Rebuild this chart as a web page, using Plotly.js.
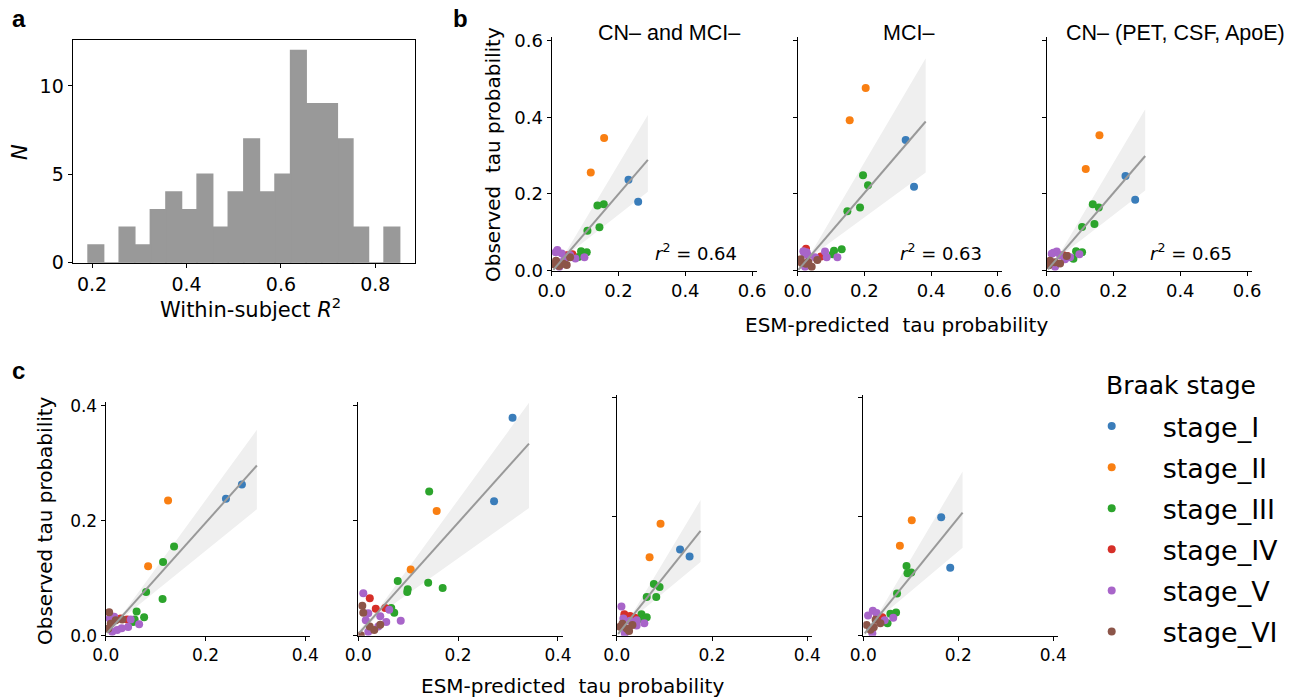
<!DOCTYPE html>
<html><head><meta charset="utf-8">
<script src="https://cdn.plot.ly/plotly-3.0.1.min.js"></script>
<style>html,body{margin:0;padding:0;background:#fff}</style>
</head><body><div id="chart" style="width:1306px;height:697px"></div>
<script>
// ---------- DATA ----------
const stageNames = ['stage_I','stage_II','stage_III','stage_IV','stage_V','stage_VI'];
const stageKeys  = ['I','II','III','IV','V','VI'];

// panel a: histogram of within-subject R^2
const histCenters = [0.208,0.241,0.274,0.307,0.340,0.373,0.406,0.439,0.472,0.505,0.538,0.571,0.604,0.637,0.670,0.703,0.736,0.769,0.802,0.835];
const histCounts  = [1,0,2,1,3,4,3,5,2,4,7,4,5,12,9,9,7,2,0,2];
const histBinWidth = 0.033;

// panel b1: CN- and MCI-
const b1_x = [0.230,0.259, 0.157,0.117, 0.137,0.156,0.143,0.107,0.088,0.105,0.080, 0.062,0.045, 0.017,0.030,0.055,0.071,0.098,0.023,0.040,0.012,0.028, 0.013,0.045,0.055,0.035,0.022,0.008];
const b1_y = [0.237,0.180, 0.346,0.256, 0.170,0.173,0.113,0.104,0.051,0.048,0.036, 0.043,0.040, 0.054,0.045,0.041,0.032,0.035,0.010,0.032,0.048,0.022, 0.026,0.015,0.035,0.018,0.012,0.016];
const b1_s = ['I','I','II','II','III','III','III','III','III','III','III','IV','IV','V','V','V','V','V','V','V','V','V','VI','VI','VI','VI','VI','VI'];
// panel b2: MCI-
const b2_x = [0.324,0.349, 0.204,0.156, 0.196,0.211,0.149,0.187,0.132,0.109,0.105, 0.025,0.070, 0.017,0.027,0.022,0.052,0.082,0.087,0.119,0.030,0.020, 0.009,0.059,0.042,0.032,0.012,0.025];
const b2_y = [0.341,0.219, 0.476,0.392, 0.249,0.223,0.155,0.165,0.056,0.052,0.043, 0.057,0.037, 0.051,0.048,0.010,0.035,0.050,0.035,0.035,0.040,0.046, 0.030,0.028,0.010,0.023,0.020,0.018];
const b2_s = ['I','I','II','II','III','III','III','III','III','III','III','IV','IV','V','V','V','V','V','V','V','V','V','VI','VI','VI','VI','VI','VI'];
// panel b3: CN- (PET, CSF, ApoE)
const b3_x = [0.236,0.265, 0.158,0.117, 0.138,0.156,0.106,0.143,0.088,0.106,0.080, 0.050,0.062, 0.020,0.030,0.070,0.098,0.025,0.040,0.015,0.055, 0.010,0.040,0.060,0.025,0.006];
const b3_y = [0.247,0.185, 0.353,0.265, 0.173,0.165,0.114,0.122,0.051,0.048,0.031, 0.040,0.038, 0.047,0.050,0.035,0.043,0.010,0.040,0.044,0.030, 0.026,0.019,0.038,0.022,0.014];
const b3_s = ['I','I','II','II','III','III','III','III','III','III','III','IV','IV','V','V','V','V','V','V','V','V','VI','VI','VI','VI','VI'];
// panel c1..c4
const c1_x = [0.241,0.273, 0.125,0.085, 0.137,0.115,0.081,0.114,0.062,0.077,0.055,0.058, 0.030,0.043, 0.067,0.045,0.050,0.017,0.023,0.013,0.032,0.008, 0.007,0.010,0.033,0.020,0.005];
const c1_y = [0.238,0.263, 0.235,0.121, 0.155,0.128,0.076,0.064,0.042,0.032,0.024,0.028, 0.030,0.028, 0.020,0.015,0.028,0.033,0.010,0.007,0.013,0.030, 0.041,0.021,0.028,0.027,0.012];
const c1_s = ['I','I','II','II','III','III','III','III','III','III','III','III','IV','IV','V','V','V','V','V','V','V','V','VI','VI','VI','VI','VI'];
const c2_x = [0.309,0.272, 0.157,0.105, 0.142,0.079,0.140,0.169,0.099,0.098,0.066,0.072, 0.023,0.035,0.054, 0.010,0.062,0.085,0.056,0.044,0.020,0.015,0.020,0.040, 0.008,0.010,0.044,0.032,0.023,0.005];
const c2_y = [0.379,0.234, 0.217,0.115, 0.251,0.095,0.092,0.083,0.081,0.076,0.048,0.040, 0.065,0.047,0.048, 0.074,0.045,0.026,0.024,0.034,0.039,0.027,0.007,0.016, 0.052,0.040,0.019,0.010,0.016,0.001];
const c2_s = ['I','I','II','II','III','III','III','III','III','III','III','III','IV','IV','IV','V','V','V','V','V','V','V','V','V','VI','VI','VI','VI','VI','VI'];
const c3_x = [0.133,0.153, 0.092,0.069, 0.078,0.090,0.063,0.083,0.052,0.063,0.056, 0.016,0.028,0.038, 0.010,0.014,0.042,0.058,0.042,0.028,0.017, 0.007,0.021,0.033,0.026,0.012];
const c3_y = [0.145,0.133, 0.188,0.132, 0.087,0.082,0.065,0.065,0.036,0.031,0.027, 0.036,0.033,0.030, 0.049,0.029,0.026,0.021,0.017,0.025,0.004, 0.015,0.012,0.018,0.008,0.020];
const c3_s = ['I','I','II','II','III','III','III','III','III','III','III','IV','IV','IV','V','V','V','V','V','V','V','VI','VI','VI','VI','VI'];
const c4_x = [0.164,0.183, 0.102,0.077, 0.091,0.093,0.101,0.071,0.057,0.069,0.051,0.043, 0.040,0.029, 0.020,0.010,0.028,0.045,0.063,0.019, 0.007,0.022,0.036,0.015,0.026];
const c4_y = [0.199,0.114, 0.194,0.151, 0.117,0.105,0.106,0.071,0.037,0.039,0.021,0.026, 0.031,0.031, 0.042,0.034,0.038,0.026,0.030,0.004, 0.018,0.014,0.021,0.010,0.027];
const c4_s = ['I','I','II','II','III','III','III','III','III','III','III','III','IV','IV','V','V','V','V','V','V','VI','VI','VI','VI','VI'];

// regression lines and confidence bands
const b1_fitX = [0.005,0.288], b1_fitY = [0.002,0.289];
const b1_bandX = [0.005,0.045,0.288], b1_bandHi = [0.008,0.052,0.406], b1_bandLo = [0.0,0.040,0.206];
const b2_fitX = [0.002,0.384], b2_fitY = [0.002,0.389];
const b2_bandX = [0.002,0.045,0.384], b2_bandHi = [0.006,0.053,0.554], b2_bandLo = [0.0,0.040,0.256];
const b3_fitX = [0.004,0.295], b3_fitY = [0.004,0.299];
const b3_bandX = [0.004,0.045,0.295], b3_bandHi = [0.010,0.053,0.421], b3_bandLo = [0.0,0.041,0.209];
const c1_fitX = [0.003,0.303], c1_fitY = [0.005,0.296];
const c1_bandX = [0.003,0.040,0.303], c1_bandHi = [0.010,0.045,0.358], c1_bandLo = [0.001,0.035,0.220];
const c2_fitX = [0.002,0.342], c2_fitY = [0.005,0.334];
const c2_bandX = [0.002,0.040,0.342], c2_bandHi = [0.010,0.046,0.405], c2_bandLo = [0.001,0.036,0.222];
const c3_fitX = [0.003,0.176], c3_fitY = [0.003,0.176];
const c3_bandX = [0.003,0.035,0.176], c3_bandHi = [0.008,0.040,0.228], c3_bandLo = [0.0,0.030,0.124];
const c4_fitX = [0.003,0.209], c4_fitY = [0.004,0.207];
const c4_bandX = [0.003,0.035,0.209], c4_bandHi = [0.008,0.041,0.276], c4_bandLo = [0.0,0.031,0.148];

const rSquared = ['0.64','0.63','0.65'];
const bTitles = ['CN– and MCI–','MCI–','CN– (PET, CSF, ApoE)'];

// ---------- STYLE / LAYOUT ----------
const stageColors = ['#3a7dba','#f97f12','#2ca42c','#d62f28','#a865c9','#8c5549'];
const W = 1306, H = 697;
const px = v => v / W;
const py = v => 1 - v / H;

const traces = [];
traces.push({type:'bar', x: histCenters, y: histCounts, width: histBinWidth,
  marker:{color:'#999999', line:{width:1.5, color:'#999999'}}, xaxis:'x', yaxis:'y', showlegend:false, hoverinfo:'skip'});

function addPanel(xs, ys, ss, fx, fy, bx, bhi, blo, xa, ya, legend){
  traces.push({type:'scatter', mode:'lines', x: bx.concat(bx.slice().reverse()),
    y: bhi.concat(blo.slice().reverse()), fill:'toself', fillcolor:'#efefef',
    line:{width:0}, xaxis:xa, yaxis:ya, showlegend:false, hoverinfo:'skip'});
  stageKeys.forEach((k,i)=>{
    const idx = [];
    ss.forEach((s,j)=>{ if (s===k) idx.push(j); });
    traces.push({type:'scatter', mode:'markers', x: idx.map(j=>xs[j]), y: idx.map(j=>ys[j]),
      marker:{color: stageColors[i], size:8}, name: stageNames[i], legendgroup: stageNames[i],
      showlegend: legend, xaxis:xa, yaxis:ya, hoverinfo:'skip'});
  });
  traces.push({type:'scatter', mode:'lines', x: fx, y: fy, line:{color:'#999999', width:2},
    xaxis:xa, yaxis:ya, showlegend:false, hoverinfo:'skip'});
}
addPanel(b1_x,b1_y,b1_s,b1_fitX,b1_fitY,b1_bandX,b1_bandHi,b1_bandLo,'x2','y2',true);
addPanel(b2_x,b2_y,b2_s,b2_fitX,b2_fitY,b2_bandX,b2_bandHi,b2_bandLo,'x3','y3',false);
addPanel(b3_x,b3_y,b3_s,b3_fitX,b3_fitY,b3_bandX,b3_bandHi,b3_bandLo,'x4','y4',false);
addPanel(c1_x,c1_y,c1_s,c1_fitX,c1_fitY,c1_bandX,c1_bandHi,c1_bandLo,'x5','y5',false);
addPanel(c2_x,c2_y,c2_s,c2_fitX,c2_fitY,c2_bandX,c2_bandHi,c2_bandLo,'x6','y6',false);
addPanel(c3_x,c3_y,c3_s,c3_fitX,c3_fitY,c3_bandX,c3_bandHi,c3_bandLo,'x7','y7',false);
addPanel(c4_x,c4_y,c4_s,c4_fitX,c4_fitY,c4_bandX,c4_bandHi,c4_bandLo,'x8','y8',false);

const FONT = 'DejaVu Sans';
function ax(domain, range, dtick, size, anchor, extra){
  return Object.assign({domain: domain, range: range, dtick: dtick, tick0: 0,
    showline:true, linecolor:'#000', linewidth:1.1, ticks:'outside', ticklen:4, tickwidth:1,
    tickcolor:'#000', showgrid:false, zeroline:false, anchor: anchor, fixedrange:true,
    tickfont:{family:FONT, size:size, color:'#000'}}, extra||{});
}
const yB = [py(270.7), py(36.7)];
const yC12 = [py(635.7), py(401.7)];
const yC34 = [py(635.7), py(395)];
const layout = {
  width: W, height: H, margin:{l:0,r:0,t:0,b:0}, paper_bgcolor:'#fff', plot_bgcolor:'rgba(0,0,0,0)',
  font:{family:FONT, color:'#000'},
  xaxis: ax([px(72.7), px(415)], [0.159,0.884], 0.2, 19, 'y', {mirror:true, tickformat:'.1f'}),
  yaxis: ax([py(262.7), py(40)], [0,12.6], 5, 19, 'x', {mirror:true}),
  xaxis2: ax([px(551.7), px(756.7)], [0,0.614], 0.2, 18, 'y2', {tickformat:'.1f'}),
  yaxis2: ax(yB, [0,0.61], 0.2, 18, 'x2', {tickformat:'.1f'}),
  xaxis3: ax([px(797.7), px(1001.7)], [0,0.612], 0.2, 18, 'y3', {tickformat:'.1f'}),
  yaxis3: ax(yB, [0,0.61], 0.2, 18, 'x3', {showticklabels:false}),
  xaxis4: ax([px(1046.7), px(1251.7)], [0,0.614], 0.2, 18, 'y4', {tickformat:'.1f'}),
  yaxis4: ax(yB, [0,0.61], 0.2, 18, 'x4', {showticklabels:false}),
  xaxis5: ax([px(105.7), px(310)], [0,0.4095], 0.2, 17, 'y5', {tickformat:'.1f'}),
  yaxis5: ax(yC12, [0,0.407], 0.2, 17, 'x5', {tickformat:'.1f'}),
  xaxis6: ax([px(358.3), px(562.7)], [0,0.4095], 0.2, 17, 'y6', {tickformat:'.1f'}),
  yaxis6: ax(yC12, [0,0.407], 0.2, 17, 'x6', {showticklabels:false}),
  xaxis7: ax([px(616.7), px(812.3)], [0,0.4105], 0.2, 17, 'y7', {tickformat:'.1f'}),
  yaxis7: ax(yC34, [0,0.4045], 0.2, 17, 'x7', {showticklabels:false}),
  xaxis8: ax([px(863.3), px(1058.3)], [0,0.4105], 0.2, 17, 'y8', {tickformat:'.1f'}),
  yaxis8: ax(yC34, [0,0.4045], 0.2, 17, 'x8', {showticklabels:false}),
  showlegend: true,
  legend:{x: px(1060.7), xanchor:'left', y: py(402), yanchor:'top', font:{family:FONT, size:27, color:'#000'},
    itemwidth: 92, tracegroupgap: 3, traceorder:'grouped', bgcolor:'rgba(0,0,0,0)', borderwidth:0},
  annotations: []
};
const A = layout.annotations;
function note(text, x, y, opts){
  A.push(Object.assign({text:text, x:px(x), y:py(y), xref:'paper', yref:'paper', showarrow:false,
    xanchor:'center', yanchor:'middle', font:{family:FONT, size:20, color:'#000'}}, opts||{}));
}
const LIB = 'Liberation Sans';
note('<b>a</b>', 19, 19, {font:{family:LIB, size:24, color:'#000'}});
note('<b>b</b>', 460, 19, {font:{family:LIB, size:24, color:'#000'}});
note('<b>c</b>', 18, 370, {font:{family:LIB, size:24, color:'#000'}});
note('Within-subject <i>R</i><sup>2</sup>', 251, 308, {font:{family:FONT, size:21, color:'#000'}});
note('<i>N</i>', 20, 152, {textangle:-90, font:{family:FONT, size:21, color:'#000'}});
const titleCx = [669, 908, 1175.5];
bTitles.forEach((t,i)=> note(t, titleCx[i], 33, {font:{family:LIB, size:21.5, color:'#000'}}));
const rX = [653, 898, 1148];
rSquared.forEach((r,i)=> note('<i>r</i><sup>2</sup> = ' + r, rX[i], 252, {xanchor:'left', font:{family:FONT, size:18, color:'#000'}}));
note('Observed\u00a0 tau probability', 493, 155, {textangle:-90});
note('ESM-predicted\u00a0 tau probability', 896, 325);
note('Observed tau probability', 45, 521, {textangle:-90});
note('ESM-predicted\u00a0 tau probability', 572, 686);
note('Braak stage', 1104, 385, {xanchor:'left', font:{family:FONT, size:25, color:'#000'}});

Plotly.newPlot('chart', traces, layout, {displayModeBar:false, staticPlot:true});
</script></body></html>
